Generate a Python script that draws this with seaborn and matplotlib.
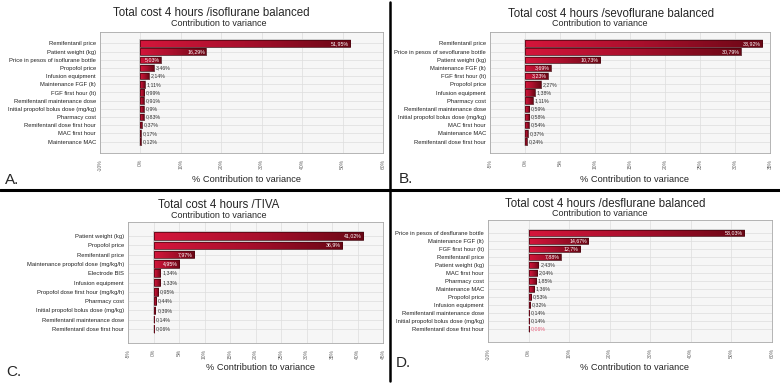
import matplotlib
matplotlib.use("Agg")
import matplotlib.pyplot as plt
from matplotlib.colors import LinearSegmentedColormap
from matplotlib.lines import Line2D
import numpy as np
import seaborn as sns

# --- data ---
iso_labels = ["Remifentanil price", "Patient weight (kg)", "Price in pesos of isoflurane bottle",
              "Propofol price", "Infusion equipment", "Maintenance FGF (lt)", "FGF first hour (lt)",
              "Remifentanil maintenance dose", "Initial propofol bolus dose (mg/kg)", "Pharmacy cost",
              "Remifentanil dose first hour", "MAC first hour", "Maintenance MAC"]
iso_values = [51.95, 16.29, 5.03, 3.46, 2.14, 1.11, 0.99, 0.91, 0.9, 0.83, 0.37, 0.17, 0.12]

sevo_labels = ["Remifentanil price", "Price in pesos of sevoflurane bottle", "Patient weight (kg)",
               "Maintenance FGF (lt)", "FGF first hour (lt)", "Propofol price", "Infusion equipment",
               "Pharmacy cost", "Remifentanil maintenance dose", "Initial propofol bolus dose (mg/kg)",
               "MAC first hour", "Maintenance MAC", "Remifentanil dose first hour"]
sevo_values = [33.92, 30.79, 10.73, 3.69, 3.23, 2.27, 1.38, 1.11, 0.59, 0.58, 0.54, 0.37, 0.24]

tiva_labels = ["Patient weight (kg)", "Propofol price", "Remifentanil price",
               "Maintenance propofol dose (mg/kg/h)", "Electrode BIS", "Infusion equipment",
               "Propofol dose first hour (mg/kg/h)", "Pharmacy cost", "Initial propofol bolus dose (mg/kg)",
               "Remifentanil maintenance dose", "Remifentanil dose first hour"]
tiva_values = [41.02, 36.9, 7.97, 4.95, 1.34, 1.33, 0.95, 0.44, 0.39, 0.14, 0.06]

des_labels = ["Price in pesos of desflurane bottle", "Maintenance FGF (lt)", "FGF first hour (lt)",
              "Remifentanil price", "Patient weight (kg)", "MAC first hour", "Pharmacy cost",
              "Maintenance MAC", "Propofol price", "Infusion equipment", "Remifentanil maintenance dose",
              "Initial propofol bolus dose (mg/kg)", "Remifentanil dose first hour"]
des_values = [53.03, 14.67, 12.7, 7.88, 2.43, 2.04, 1.85, 1.36, 0.53, 0.32, 0.14, 0.14, 0.06]

W, H = 780, 383
sns.set_style("white")
plt.rcParams["font.family"] = ["Liberation Sans", "DejaVu Sans"]

fig = plt.figure(figsize=(W / 100, H / 100), dpi=100)
fig.patch.set_facecolor("white")

grad = LinearSegmentedColormap.from_list("bar", ["#d4163b", "#a80f2c", "#6a0715"])


def px_axes(x0, y0, x1, y1):
    return fig.add_axes([x0 / W, 1 - y1 / H, (x1 - x0) / W, (y1 - y0) / H])


def ftext(x, y, s, **kw):
    fig.text(x / W, 1 - y / H, s, **kw)


def tornado(box, labels, values, xlim, step, pad, title_xy, sub_xy, xlab_xy, letter, letter_xy,
            pink_last=False):
    ax = px_axes(*box)
    sns.barplot(x=values, y=labels, orient="h", ax=ax, width=0.8, color="#b01030",
                edgecolor="#4a0610", linewidth=0.5, zorder=2)
    ax.set_facecolor("#f6f6f6")
    n = len(labels)

    # gradient fill clipped to each bar, with a pale outline behind it
    for p in ax.patches:
        x0, y0 = p.get_x(), p.get_y()
        w, h = p.get_width(), p.get_height()
        if w <= 0:
            continue
        ax.add_patch(plt.Rectangle((x0, y0), w, h, fill=False, edgecolor="#c8c8c8",
                                   linewidth=1.3, zorder=1.8))
        im = ax.imshow(np.linspace(0, 1, 128).reshape(1, -1), cmap=grad, aspect="auto",
                       extent=(x0, x0 + w, y0 + h, y0), zorder=1.9, interpolation="bilinear")
        im.set_clip_path(p)
        p.set_facecolor("none")
    ax.set_xlim(*xlim)
    ax.set_ylim(n - 0.5 + pad, -0.5 - pad)

    ticks = np.arange(xlim[0], xlim[1] + 0.1, step)
    ax.set_xticks(ticks)
    ax.set_xticklabels([f"{int(t)}%" for t in ticks], rotation=90, fontsize=3.6, color="#666666")
    ax.tick_params(axis="x", length=3, width=0.5, color="#999999", pad=1.5)
    ax.tick_params(axis="y", length=2, width=0.5, color="#999999", pad=1, labelsize=4.2,
                   labelcolor="#222222")
    ax.grid(True, color="#dddddd", linewidth=0.5)
    ax.set_axisbelow(True)
    for s in ax.spines.values():
        s.set_color("#a8a8a8")
        s.set_linewidth(0.6)
    ax.set_xlabel("")
    ax.set_ylabel("")

    ppu = (box[2] - box[0]) / (xlim[1] - xlim[0])
    for i, v in enumerate(values):
        txt = f"{v:g}".replace(".", ",") + "%"
        if v * ppu > 18:
            ax.text(v - 1.2 / ppu, i, txt, ha="right", va="center", fontsize=3.8,
                    color="white", zorder=5)
        else:
            col = "#e8607c" if (pink_last and i == n - 1) else "#333333"
            ax.text(v + 1.8 / ppu, i, txt, ha="left", va="center", fontsize=3.8,
                    color=col, zorder=5)

    ftext(*title_xy, title, ha="center", va="center", fontsize=8.3)
    ftext(*sub_xy, "Contribution to variance", ha="center", va="center", fontsize=6.5)
    ftext(*xlab_xy, "% Contribution to variance", ha="center", va="center", fontsize=6.7)
    ftext(*letter_xy, letter, ha="left", va="center", fontsize=11)
    return ax


title = "Total cost 4 hours /isoflurane balanced"
tornado((100, 32, 383, 153), iso_labels, iso_values, (-10, 60), 10, 0.9,
        (211, 13), (219, 23), (247, 180), "A.", (5, 180))
title = "Total cost 4 hours /sevoflurane balanced"
tornado((490, 32, 770, 153), sevo_labels, sevo_values, (-5, 35), 5, 0.9,
        (611, 14), (600, 23), (635, 180), "B.", (399, 179))
title = "Total cost 4 hours /TIVA"
tornado((128, 222, 383, 343), tiva_labels, tiva_values, (-5, 45), 5, 1.0,
        (219, 205), (219, 215), (261, 368), "C.", (6, 372))
title = "Total cost 4 hours /desflurane balanced"
tornado((488, 220, 772, 342), des_labels, des_values, (-10, 60), 10, 1.1,
        (605, 204), (600, 214), (635, 367), "D.", (396, 363), pink_last=True)

# panel dividers
fig.add_artist(Line2D([0, 1], [1 - 189.5 / H] * 2, transform=fig.transFigure,
                      color="black", linewidth=2.2))
fig.add_artist(Line2D([389.5 / W] * 2, [1 - 2 / H, 1 - 381 / H], transform=fig.transFigure,
                      color="black", linewidth=1.8))

fig.savefig("out.png", dpi=100)
